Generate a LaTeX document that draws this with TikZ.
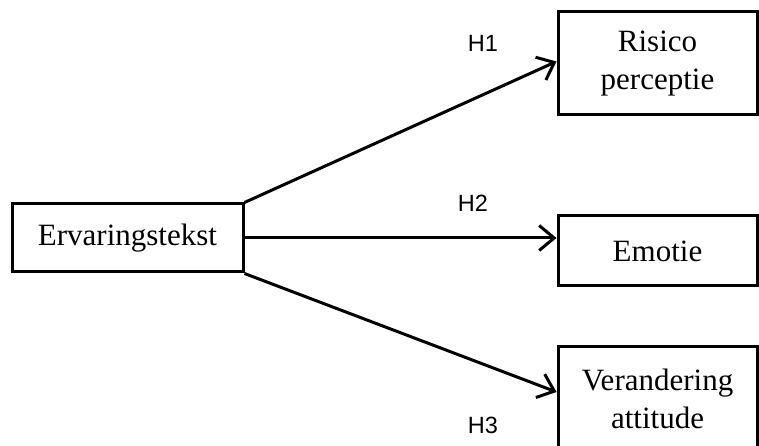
\documentclass[tikz,border=0pt]{standalone}
\usepackage{fontspec}
\setmainfont{Liberation Serif}
\newfontfamily\labelfont{Liberation Sans}
\usetikzlibrary{arrows.meta}
\tikzset{
	varbox/.style={draw,line width=3pt,minimum width=199pt,align=center,font=\fontsize{31}{38}\selectfont},
	hyplabel/.style={font=\labelfont\fontsize{23.5}{27}\selectfont},
	hyparrow/.style={line width=3pt,-{Straight Barb[length=15pt,width=25pt,line width=3pt]}}
}
\begin{document}
\begin{tikzpicture}[x=1pt,y=1pt]
	    \useasboundingbox (0,0) rectangle (759,446);
	    \clip (0,0) rectangle (759,446);
	    
	    \node[varbox,minimum width=231pt,minimum height=68pt] (erv) at (127.5,208) {Ervaringstekst};
	    \node[varbox,minimum height=103pt] (ris) at (657.5,382.5) {Risico\\perceptie};
	    \node[varbox,minimum height=70pt] (emo) at (657.5,195) {Emotie};
	    \node[varbox,minimum height=104pt] (ver) at (657.5,47) {Verandering\\attitude};
	    
	    \node[hyplabel] (h1) at (483,403) {H1};
	    \node[hyplabel] (h2) at (473,243) {H2};
	    \node[hyplabel] (h3) at (483,21) {H3};
	    
        \draw[hyparrow] (erv.north east) -- ([yshift=2pt]ris.west);
        \draw[hyparrow] (erv.east) -- (erv.east -| emo.west);
        \draw[hyparrow] (erv.south east) -- ([yshift=7pt]ver.west);
	\end{tikzpicture}
\end{document}
